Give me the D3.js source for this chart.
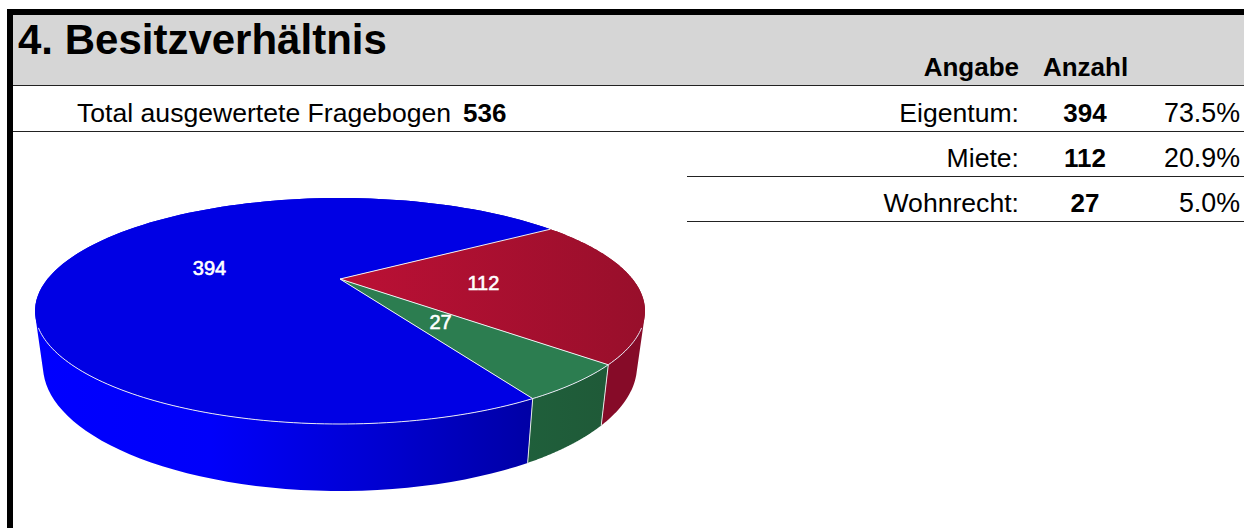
<!DOCTYPE html>
<html><head><meta charset="utf-8">
<script src="https://cdn.jsdelivr.net/npm/d3@7"></script>
<style>html,body{margin:0;padding:0;background:#fff}svg{display:block}text{font-family:"Liberation Sans",Arial,sans-serif;fill:#000}</style>
</head><body><svg id="c" width="1244" height="528"></svg>
<script>
const title = "4. Besitzverhältnis";
const totalLabel = "Total ausgewertete Fragebogen";
const totalValue = "536";
const headers = ["Angabe", "Anzahl"];
const categories = ["Eigentum", "Miete", "Wohnrecht"];
const counts = [394, 112, 27];
const percents = ["73.5%", "20.9%", "5.0%"];
const topColors = ["#0000e4", "url(#topRed)", "#2c7d50"];
const sideColors = ["url(#sideBlue)", "#860b28", "url(#sideGreen)"];

const W = 1244, H = 528;
const svg = d3.select("#c");
const rad = d => d * Math.PI / 180;

// Perspective disc: the true centre of the circle projects above the ellipse centre
const persp = -0.283, k = Math.sqrt(1 - persp * persp);
const topX = d3.scaleLinear().domain([-1, 1]).range([35, 645]);
const topY = d3.scaleLinear().domain([-1, 1]).range([198, 424]);
const botX = d3.scaleLinear().domain([-1, 1]).range([43, 637]);
const botY = d3.scaleLinear().domain([-1, 1]).range([241, 491]);
function project(a, r, sx, sy) {            // a: d3 pie angle (0 = up, clockwise)
  const x = r * Math.sin(a), y = -r * Math.cos(a), den = 1 + persp * y;
  return [sx(x * k / den), sy((y + persp) / den)];
}
const top_ = (a, r = 1) => project(a, r, topX, topY);
const bot_ = (a, r = 1) => project(a, r, botX, botY);

const start = rad(150.2);
const arcs = d3.pie().sort(null).startAngle(start).endAngle(start + 2 * Math.PI)(counts);
const samples = (a0, a1, n = 120) => d3.range(0, n + 1).map(i => a0 + (a1 - a0) * i / n);
const line = d3.line();

// Gradients
const defs = svg.append("defs");
function grad(id, x1, x2, stops) {
  const g = defs.append("linearGradient").attr("id", id).attr("gradientUnits", "userSpaceOnUse")
    .attr("x1", x1).attr("x2", x2).attr("y1", 0).attr("y2", 0);
  stops.forEach(([o, c]) => g.append("stop").attr("offset", o).attr("stop-color", c));
}
grad("topRed", 345, 645, [[0, "#bb1035"], [1, "#980f2b"]]);
grad("sideBlue", 40, 530, [[0, "#0000ff"], [0.35, "#0000fa"], [0.7, "#0000d0"], [1, "#0000a6"]]);
grad("sideGreen", 527, 605, [[0, "#1f5f3b"], [1, "#1f5a38"]]);

// Header band, frame and rules
svg.append("rect").attr("x", 13).attr("y", 15).attr("width", W - 13).attr("height", 70).attr("fill", "#d6d6d6");
svg.append("rect").attr("x", 7).attr("y", 9).attr("width", W - 7).attr("height", 6).attr("fill", "#000");
svg.append("rect").attr("x", 7).attr("y", 9).attr("width", 6).attr("height", H - 9).attr("fill", "#000");
[[13, 85.5], [13, 131.5], [687, 176.5], [687, 221.5]].forEach(([x, y]) =>
  svg.append("line").attr("x1", x).attr("x2", W).attr("y1", y).attr("y2", y).attr("stroke", "#222").attr("stroke-width", 1));

// Pie side walls: one path per slice made of small quads, so no seams appear
const pie = svg.append("g");
arcs.forEach((d, i) => {
  const as = samples(d.startAngle, d.endAngle);
  const path = d3.pairs(as).map(([a, b]) => {
    const q = [top_(a), top_(b), bot_(b), bot_(a)];
    const area = d3.polygonArea(q);
    return line(area < 0 ? q.slice().reverse() : q) + "Z";
  }).join("");
  pie.append("path").attr("d", path).attr("fill", sideColors[i]);
});
arcs.slice(1).forEach(d => {
  pie.append("path").attr("d", line([top_(d.endAngle), bot_(d.endAngle)]))
    .attr("stroke", "#e4e8e6").attr("stroke-width", 1).attr("fill", "none");
});

// Pie top surface
arcs.forEach((d, i) => {
  const pts = [top_(0, 0)].concat(samples(d.startAngle, d.endAngle).map(a => top_(a)));
  pie.append("path").attr("d", line(pts) + "Z").attr("fill", topColors[i]);
});
// White separators and the front part of the rim
arcs.forEach(d => {
  pie.append("path").attr("d", line([top_(0, 0), top_(d.startAngle)]))
    .attr("stroke", "#eef0f2").attr("stroke-width", 1).attr("fill", "none");
});
pie.append("path").attr("d", line(samples(rad(114.5), rad(245.5)).map(a => top_(a))))
  .attr("stroke", "#e8e8f4").attr("stroke-width", 1).attr("fill", "none");

// Pie value labels
arcs.forEach(d => {
  const [x, y] = top_((d.startAngle + d.endAngle) / 2, 0.48);
  pie.append("text").attr("x", x + 2).attr("y", y + 7).attr("text-anchor", "middle")
    .attr("font-size", 20).style("fill", "#fff").style("stroke", "#fff").style("stroke-width", 0.6).text(d.value);
});

// Texts
function txt(x, y, s, size, anchor, bold) {
  svg.append("text").attr("x", x).attr("y", y).attr("font-size", size)
    .attr("text-anchor", anchor).attr("font-weight", bold ? "bold" : "normal").text(s);
}
txt(18, 54, title, 42, "start", true);
txt(77, 122, totalLabel, 26.6, "start", false);
txt(463, 122, totalValue, 26, "start", true);
txt(1019, 76, headers[0], 26, "end", true);
txt(1085.5, 76, headers[1], 26, "middle", true);
const rowY = [122, 167, 212];
categories.forEach((c, i) => {
  txt(1019, rowY[i], c + ":", 26.6, "end", false);
  txt(1085, rowY[i], counts[i], 26, "middle", true);
  txt(1240, rowY[i], percents[i], 26.8, "end", false);
});
</script></body></html>
